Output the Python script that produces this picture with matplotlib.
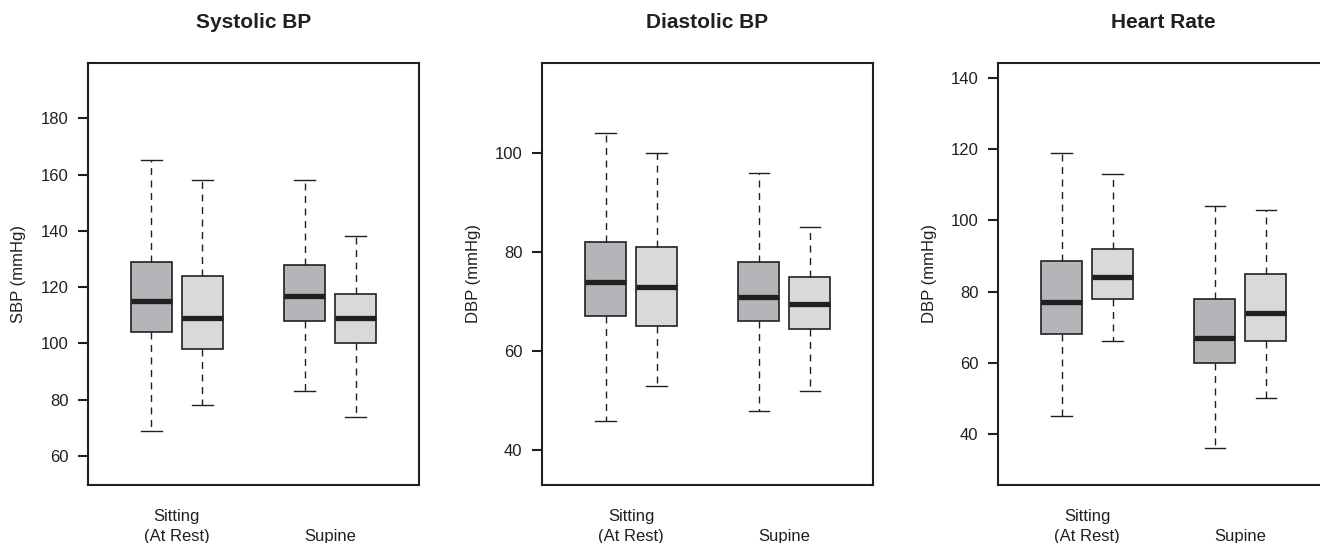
import matplotlib
matplotlib.use("Agg")
import matplotlib.pyplot as plt

plt.rcParams['font.family'] = ['Liberation Sans', 'DejaVu Sans']

# ---------------- data ----------------
titles = ["Systolic BP", "Diastolic BP", "Heart Rate"]
ylabels = ["SBP (mmHg)", "DBP (mmHg)", "DBP (mmHg)"]
group_labels = ["Sitting\n(At Rest)", "\nSupine"]

# order of boxes: Sitting-dark, Sitting-light, Supine-dark, Supine-light
sbp_whislo = [69, 78, 83, 74]
sbp_q1 = [104, 98, 108, 100]
sbp_med = [115, 109, 117, 109]
sbp_q3 = [129, 124, 128, 117.5]
sbp_whishi = [165, 158, 158, 138]

dbp_whislo = [46, 53, 48, 52]
dbp_q1 = [67, 65, 66, 64.5]
dbp_med = [74, 73, 71, 69.5]
dbp_q3 = [82, 81, 78, 75]
dbp_whishi = [104, 100, 96, 85]

hr_whislo = [45, 66, 36, 50]
hr_q1 = [68, 78, 60, 66]
hr_med = [77, 84, 67, 74]
hr_q3 = [88.5, 92, 78, 85]
hr_whishi = [119, 113, 104, 103]

sbp_ticks = [60, 80, 100, 120, 140, 160, 180]
dbp_ticks = [40, 60, 80, 100]
hr_ticks = [40, 60, 80, 100, 120, 140]

# ---------------- layout / style ----------------
box_positions = [1, 2, 4, 5]
group_positions = [1.5, 4.5]
ylims = [(49.7, 199.8), (33.0, 118.2), (25.6, 144.4)]
xlim = (-0.245, 6.235)
fills = ["#b4b5b8", "#d8d9db", "#b4b5b8", "#d8d9db"]
ink = "#231f20"

panels = [
    (sbp_whislo, sbp_q1, sbp_med, sbp_q3, sbp_whishi, sbp_ticks),
    (dbp_whislo, dbp_q1, dbp_med, dbp_q3, dbp_whishi, dbp_ticks),
    (hr_whislo, hr_q1, hr_med, hr_q3, hr_whishi, hr_ticks),
]

W, H = 1320, 543
fig = plt.figure(figsize=(W / 100, H / 100), dpi=100)
lefts_px = [87.7, 542.0, 998.0]
width_px = 331.0
top_px, bottom_px = 62.5, 485.0

for i, (lo, q1, med, q3, hi, ticks) in enumerate(panels):
    ax = fig.add_axes([lefts_px[i] / W, (H - bottom_px) / H,
                       width_px / W, (bottom_px - top_px) / H])
    stats = []
    for k in range(len(lo)):
        stats.append(dict(whislo=lo[k], q1=q1[k], med=med[k], q3=q3[k],
                          whishi=hi[k], fliers=[]))
    bp = ax.bxp(stats, positions=box_positions, widths=0.8, capwidths=0.4,
                patch_artist=True, showfliers=False,
                boxprops=dict(edgecolor=ink, linewidth=1.2),
                medianprops=dict(color=ink, linewidth=3.8, solid_capstyle='butt'),
                whiskerprops=dict(color=ink, linewidth=1.0, linestyle=(0, (5, 4))),
                capprops=dict(color=ink, linewidth=1.0))
    for patch, c in zip(bp['boxes'], fills):
        patch.set_facecolor(c)
    ax.set_xlim(*xlim)
    ax.set_ylim(*ylims[i])
    ax.set_yticks(ticks)
    ax.set_yticklabels([str(t) for t in ticks], fontsize=12, color=ink)
    ax.set_xticks(group_positions)
    ax.set_xticklabels(group_labels, fontsize=12, color=ink, linespacing=1.45)
    ax.tick_params(axis='x', length=0, pad=17)
    ax.tick_params(axis='y', length=7.5, width=1.5, color=ink, pad=6.5)
    for s in ax.spines.values():
        s.set_linewidth(1.5)
        s.set_color(ink)
    ax.set_ylabel(ylabels[i], fontsize=12, color=ink, va='center')
    ax.yaxis.set_label_coords(-0.208, 0.5)
    ax.set_title(titles[i], fontsize=15, fontweight='bold', color=ink, pad=25)

fig.savefig("out.png", dpi=100)
